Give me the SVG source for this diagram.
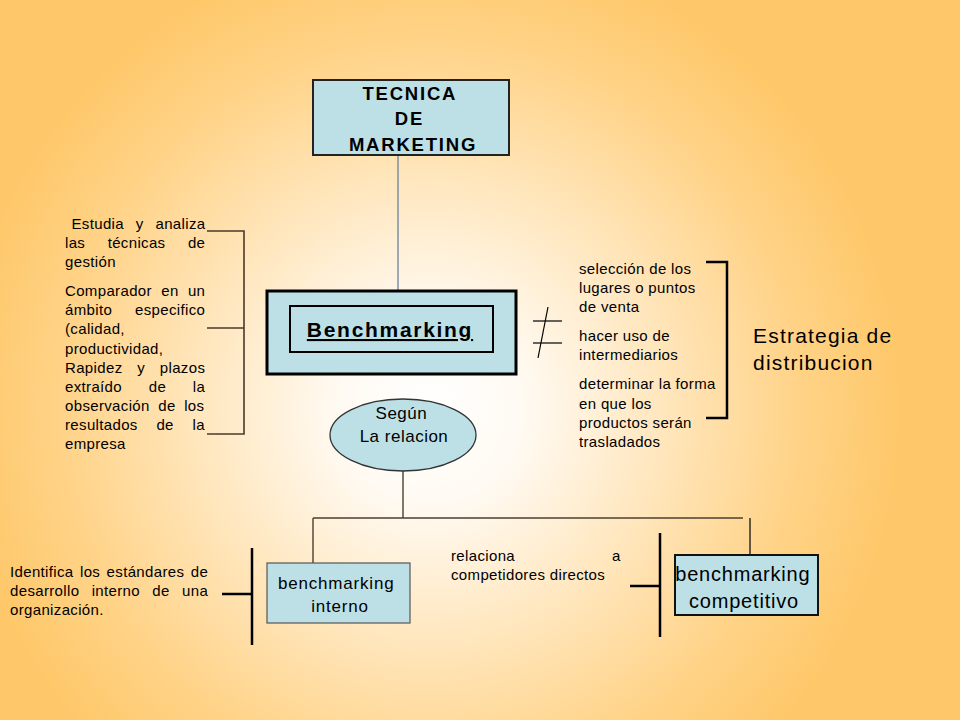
<svg xmlns="http://www.w3.org/2000/svg" width="960" height="720" viewBox="0 0 960 720">
<defs>
<radialGradient id="bg" gradientUnits="userSpaceOnUse" cx="430" cy="410" r="470">
<stop offset="0" stop-color="#FFFFFF"/>
<stop offset="0.2" stop-color="#FFFAF2"/>
<stop offset="0.5" stop-color="#FFE6BC"/>
<stop offset="0.8" stop-color="#FFD285"/>
<stop offset="1" stop-color="#FEC86A"/>
</radialGradient>
<style>
.t{font-family:"Liberation Sans",Arial,sans-serif;fill:#000}
.s15{font-size:15px;letter-spacing:0.35px}
.box{fill:#BDE0E6;stroke:#222;stroke-width:2}
.br{fill:none;stroke:#4a3a2a;stroke-width:1.6}
.bk{fill:none;stroke:#000;stroke-width:2.5}
.cn{fill:none;stroke:#4a3f30;stroke-width:1.4}
</style>
</defs>
<rect x="0" y="0" width="960" height="720" fill="url(#bg)"/>

<g id="connectors">
<line x1="398" y1="156" x2="398" y2="291" stroke="#5a7a9a" stroke-width="1.2"/>
<line x1="403" y1="471" x2="403" y2="518" class="cn"/>
<line x1="313" y1="518" x2="743" y2="518" class="cn"/>
<line x1="313" y1="518" x2="313" y2="563" class="cn"/>
<line x1="750" y1="518" x2="750" y2="555" stroke="#222" stroke-width="1.4"/>
</g>

<g id="tecnica">
<rect x="313" y="80" width="196" height="75" class="box"/>
<text class="t" font-weight="bold" font-size="18.5" text-anchor="middle" letter-spacing="1.8">
<tspan x="413" y="100">TECNICA</tspan>
<tspan x="413" y="125">DE</tspan>
<tspan x="413" y="151">MARKETING</tspan>
</text>
</g>

<g id="benchmarking">
<rect x="267" y="291" width="249" height="83" fill="#BDE0E6" stroke="#000" stroke-width="3"/>
<rect x="290" y="306" width="203" height="46" fill="none" stroke="#000" stroke-width="2"/>
<text class="t" x="390" y="337" font-weight="bold" font-size="21" letter-spacing="1.7" text-anchor="middle" text-decoration="underline">Benchmarking</text>
</g>

<g id="neq">
<line x1="533" y1="321" x2="562" y2="321" stroke="#000" stroke-width="1.2"/>
<line x1="533" y1="343" x2="562" y2="343" stroke="#000" stroke-width="1.2"/>
<line x1="548" y1="307" x2="538" y2="358" stroke="#000" stroke-width="1.2"/>
</g>

<g id="left-notes">
<text class="t s15" x="71.5" y="229" word-spacing="7.3">Estudia y analiza</text>
<text class="t s15" x="65" y="248" word-spacing="17.9">las técnicas de</text>
<text class="t s15" x="65" y="266.5">gestión</text>
<text class="t s15" x="65" y="295.5" word-spacing="4.8">Comparador en un</text>
<text class="t s15" x="65" y="314.5" word-spacing="18.4">ámbito especifico</text>
<text class="t s15" x="65" y="334">(calidad,</text>
<text class="t s15" x="65" y="353.5">productividad,</text>
<text class="t s15" x="65" y="373" word-spacing="10.2">Rapidez y plazos</text>
<text class="t s15" x="65" y="392" word-spacing="22.2">extraído de la</text>
<text class="t s15" x="65" y="411" word-spacing="4">observación de los</text>
<text class="t s15" x="65" y="430" word-spacing="14.2">resultados de la</text>
<text class="t s15" x="65" y="448.5">empresa</text>
<path d="M207 231 H244 V434 H207 M207 328 H244" class="br"/>
</g>

<g id="right-notes">
<text class="t s15">
<tspan x="579" y="273.5">selección de los</tspan>
<tspan x="579" y="292.5">lugares o puntos</tspan>
<tspan x="579" y="311.5">de venta</tspan>
<tspan x="579" y="340.5">hacer uso de</tspan>
<tspan x="579" y="359.5">intermediarios</tspan>
<tspan x="579" y="389">determinar la forma</tspan>
<tspan x="579" y="408.5">en que los</tspan>
<tspan x="579" y="428">productos serán</tspan>
<tspan x="579" y="447">trasladados</tspan>
</text>
<path d="M706 262 H727 V418 H706" fill="none" stroke="#000" stroke-width="2.5"/>
</g>

<g id="estrategia">
<text class="t" font-size="21" letter-spacing="1.2">
<tspan x="753" y="343">Estrategia de</tspan>
<tspan x="753" y="370">distribucion</tspan>
</text>
</g>

<g id="segun">
<ellipse cx="403" cy="435" rx="73" ry="36" fill="#BDE0E6" stroke="#333" stroke-width="1.3"/>
<text class="t" font-size="17" letter-spacing="0.5" text-anchor="middle">
<tspan x="404" y="419">Según</tspan>
<tspan x="404" y="442">La relacion</tspan>
</text>
</g>

<g id="interno">
<rect x="267" y="563" width="143" height="60" fill="#BDE0E6" stroke="#555" stroke-width="1.2"/>
<text class="t" font-size="17" letter-spacing="0.8" text-anchor="middle">
<tspan x="339" y="589">benchmarking</tspan>
<tspan x="340" y="612">interno</tspan>
</text>
<path d="M252 548 V645 M222 594 H252" class="bk"/>
<text class="t s15" x="10" y="577" word-spacing="1.9">Identifica los estándares de</text>
<text class="t s15" x="10" y="596" word-spacing="7.8">desarrollo interno de una</text>
<text class="t s15" x="10" y="615">organización.</text>
</g>

<g id="competitivo">
<rect x="675" y="555" width="143" height="60" fill="#BDE0E6" stroke="#111" stroke-width="2"/>
<text class="t" font-size="20" letter-spacing="0.8" text-anchor="middle">
<tspan x="746" y="581">benchmarking</tspan>
<tspan x="744" y="608">competitivo</tspan>
</text>
<path d="M660 533 V637 M630 586 H660" class="bk"/>
<text class="t s15" x="451" y="560.5" word-spacing="92.5">relaciona a</text>
<text class="t s15" x="451" y="579.5">competidores directos</text>
</g>
</svg>
